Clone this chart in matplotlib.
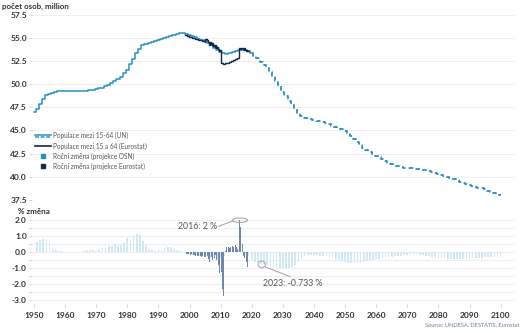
"""
Working-age population of Germany (UN vs Eurostat) with annual % change bars.
"""

import numpy as np
import matplotlib
matplotlib.use('Agg')
import matplotlib.pyplot as plt
from matplotlib.lines import Line2D
from matplotlib.patches import Ellipse
from matplotlib.legend_handler import HandlerBase
from matplotlib.ticker import MultipleLocator, FormatStrFormatter

plt.rcParams['font.family'] = ['Lato', 'DejaVu Sans']

# ── Data ───────────────────────────────────────────────────────────────────
un_years = list(range(1950, 2101))
un_pop = [
    47.05, 47.35, 47.85, 48.40, 48.80, 49.00, 49.10, 49.18, 49.23, 49.27,  # 1950
    49.30, 49.31, 49.32, 49.31, 49.30, 49.28, 49.27, 49.30, 49.36, 49.42,  # 1960
    49.48, 49.55, 49.65, 49.78, 49.95, 50.15, 50.35, 50.55, 50.80, 51.20,  # 1970
    51.60, 52.15, 52.75, 53.35, 53.85, 54.20, 54.40, 54.50, 54.57, 54.65,  # 1980
    54.75, 54.85, 54.97, 55.10, 55.25, 55.38, 55.48, 55.52, 55.50, 55.40,  # 1990
    55.30, 55.20, 55.08, 54.95, 54.80, 54.65, 54.45, 54.22, 53.98, 53.72,  # 2000
    53.50, 53.35, 53.32, 53.40, 53.50, 53.60, 53.70, 53.72, 53.68, 53.55,  # 2010
    53.35, 53.10, 52.80, 52.45, 52.10, 51.75, 51.35, 50.95, 50.40, 49.80,  # 2020
    49.20, 48.70, 48.20, 47.75, 47.25, 46.85, 46.55, 46.40, 46.30, 46.22,  # 2030
    46.15, 46.07, 45.98, 45.88, 45.76, 45.65, 45.53, 45.42, 45.30, 45.15,  # 2040
    44.95, 44.70, 44.40, 44.05, 43.75, 43.45, 43.15, 42.88, 42.65, 42.45,  # 2050
    42.28, 42.10, 41.90, 41.70, 41.52, 41.38, 41.25, 41.12, 41.04, 40.99,  # 2060
    40.95, 40.92, 40.89, 40.85, 40.80, 40.75, 40.68, 40.60, 40.50, 40.40,  # 2070
    40.30, 40.20, 40.10, 39.98, 39.85, 39.72, 39.60, 39.48, 39.36, 39.25,  # 2080
    39.14, 39.03, 38.93, 38.83, 38.73, 38.62, 38.50, 38.38, 38.26, 38.12,  # 2090
    37.98,                                                                 # 2100
]
UN_LAST_HIST = 2020

eu_years = [1998.5 + 0.25 * i for i in range(83)]
eu_pop = [
    55.35, 55.30,
    55.28, 55.25, 55.22, 55.20,   # 1999
    55.17, 55.14, 55.10, 55.07,   # 2000
    55.03, 55.00, 54.97, 54.94,   # 2001
    54.92, 54.90, 54.87, 54.85,   # 2002
    54.82, 54.80, 54.78, 54.75,   # 2003
    54.73, 54.70, 54.68, 54.65,   # 2004
    54.62, 54.85, 54.95, 54.75,   # 2005
    54.60, 54.45, 54.30, 54.55,   # 2006
    54.40, 54.20, 54.45, 54.15,   # 2007
    54.30, 54.05, 54.20, 53.95,   # 2008
    54.00, 53.80, 53.85, 53.65,   # 2009
    53.70, 52.30, 52.25, 52.20,   # 2010
    52.18, 52.22, 52.25, 52.28,   # 2011
    52.30, 52.33, 52.35, 52.38,   # 2012
    52.42, 52.45, 52.50, 52.55,   # 2013
    52.58, 52.62, 52.65, 52.70,   # 2014
    52.73, 52.78, 52.82, 52.85,   # 2015
    53.90, 53.85, 53.82, 53.88,   # 2016
    53.95, 53.80, 53.70, 53.90,   # 2017
    53.75, 53.55, 53.70, 53.60,   # 2018
    53.55,                        # 2019
]

un_chg_years = list(range(1951, 2101))
un_chg = [
    0.62, 0.78, 0.85, 0.82, 0.62, 0.15, 0.14, 0.10, 0.06,                  # 1951
    0.04, 0.03, 0.02, 0.00, -0.02, 0.04, 0.06, 0.12, 0.15, 0.16,           # 1960
    0.10, 0.15, 0.25, 0.28, 0.38, 0.42, 0.50, 0.38, 0.45, 0.60,            # 1970
    0.90, 0.72, 1.05, 1.15, 1.05, 0.72, 0.48, 0.22, 0.15, 0.10,            # 1980
    0.20, 0.15, 0.28, 0.30, 0.32, 0.22, 0.15, 0.08, 0.02, -0.05,           # 1990
    -0.10, -0.15, -0.18, -0.22, -0.25, -0.28, -0.32, -0.35, -0.40, -0.42,  # 2000
    -0.35, -0.20, -0.05, 0.12, 0.18, 0.20, 0.12, 0.05, -0.10, -0.25,       # 2010
    -0.45, -0.60, -0.68, -0.733, -0.75, -0.80, -0.85, -0.90, -0.95, -0.98, # 2020
    -1.00, -0.98, -0.95, -0.92, -0.80, -0.60, -0.40, -0.25, -0.18, -0.15,  # 2030
    -0.15, -0.18, -0.20, -0.22, -0.25, -0.30, -0.35, -0.42, -0.50, -0.55,  # 2040
    -0.60, -0.65, -0.65, -0.68, -0.68, -0.65, -0.60, -0.55, -0.50, -0.45,  # 2050
    -0.42, -0.40, -0.38, -0.33, -0.30, -0.27, -0.25, -0.22, -0.20, -0.18,  # 2060
    -0.15, -0.14, -0.13, -0.13, -0.14, -0.16, -0.20, -0.24, -0.27, -0.30,  # 2070
    -0.33, -0.36, -0.38, -0.40, -0.42, -0.43, -0.44, -0.44, -0.43, -0.42,  # 2080
    -0.40, -0.38, -0.36, -0.34, -0.33, -0.32, -0.31, -0.30, -0.30, -0.30,  # 2090
    -0.30,                                                                 # 2100
]

eu_chg_years = [1999 + 0.25 * i for i in range(80)]
eu_chg = [
    -0.10, -0.12, -0.10, -0.12,   # 1999
    -0.12, -0.15, -0.13, -0.15,   # 2000
    -0.15, -0.18, -0.16, -0.20,   # 2001
    -0.18, -0.20, -0.22, -0.20,   # 2002
    -0.22, -0.25, -0.25, -0.28,   # 2003
    -0.25, -0.28, -0.30, -0.32,   # 2004
    -0.30, 0.45, 0.55, -0.20,     # 2005
    -0.40, -0.60, -1.10, -0.50,   # 2006
    -0.30, -0.45, -0.20, -0.75,   # 2007
    -0.35, -0.15, -0.50, -0.30,   # 2008
    -0.50, -0.80, -1.30, -0.70,   # 2009
    -1.60, -1.20, -2.30, -2.75,   # 2010
    -2.90, -0.60, 0.10, 0.30,     # 2011
    0.30, 0.20, 0.35, 0.25,       # 2012
    0.30, 0.15, 0.35, 0.40,       # 2013
    0.30, 0.25, 0.40, 0.45,       # 2014
    0.35, 0.20, 0.45, 0.55,       # 2015
    2.00, 1.60, 1.55, 1.00,       # 2016
    0.50, -0.20, -0.35, -0.50,    # 2017
    -0.30, -0.60, -0.90, -0.40,   # 2018
]

UN_LINE = '#2a8fc1'
EU_LINE = '#12284a'
UN_BAR = '#d2e8f4'
EU_BAR = '#6f88a8'
GRID = '#efefef'
TXT = '#333333'
TICK_FS = 6.0


class DoubleLineHandler(HandlerBase):
    """Legend handle: solid line above a dashed one."""
    def create_artists(self, legend, orig_handle, xdescent, ydescent,
                       width, height, fontsize, trans):
        x0, x1 = -xdescent, -xdescent + width
        yc = height / 2 - ydescent
        top = Line2D([x0, x1], [yc + height * 0.2] * 2, color=UN_LINE,
                     lw=1.1, transform=trans)
        bot = Line2D([x0, x1], [yc - height * 0.2] * 2, color=UN_LINE,
                     lw=1.1, ls=(0, (2.5, 1.2)), transform=trans)
        return [top, bot]


def style_axis(ax):
    for s in ax.spines.values():
        s.set_visible(False)
    ax.grid(axis='y', which='both', color=GRID, lw=0.8)
    ax.set_axisbelow(True)
    ax.tick_params(axis='y', which='both', length=2.5, width=0.6,
                   color='#cccccc', pad=1.5, labelsize=TICK_FS, labelcolor=TXT)
    for lab in ax.get_yticklabels():
        lab.set_fontweight('bold')


def main():
    fig = plt.figure(figsize=(5.23, 3.33), dpi=100)
    left, width = 0.062, 0.922
    ax1 = fig.add_axes([left, 0.400, width, 0.555])
    ax2 = fig.add_axes([left, 0.086, width, 0.267])

    # ── Top panel: population levels ──────────────────────────────────────
    yrs = np.array(un_years)
    pop = np.array(un_pop)
    hist = yrs <= UN_LAST_HIST
    ax1.plot(yrs[hist], pop[hist], color=UN_LINE, lw=1.1, drawstyle='steps-mid')
    proj = yrs >= UN_LAST_HIST
    ax1.plot(yrs[proj], pop[proj], color=UN_LINE, lw=1.3,
             ls=(0, (2.5, 1.8)), drawstyle='steps-mid')
    ax1.plot(eu_years, eu_pop, color=EU_LINE, lw=1.0, drawstyle='steps-mid')

    ax1.set_xlim(1949.5, 2104.5)
    ax1.set_ylim(37.5, 57.5)
    ax1.yaxis.set_major_locator(MultipleLocator(2.5))
    ax1.yaxis.set_major_formatter(FormatStrFormatter('%.1f'))
    ax1.tick_params(axis='x', bottom=False, labelbottom=False)
    style_axis(ax1)

    handles = [
        object(),
        Line2D([], [], color=EU_LINE, lw=1.2),
        Line2D([], [], color=UN_LINE, marker='s', ls='none', markersize=3.2),
        Line2D([], [], color=EU_LINE, marker='s', ls='none', markersize=3.2),
    ]
    labels = [
        'Populace mezi 15-64 (UN)',
        'Populace mezi 15 a 64 (Eurostat)',
        'Roční změna (projekce OSN)',
        'Roční změna (projekce Eurostat)',
    ]
    leg = ax1.legend(handles, labels, handler_map={object: DoubleLineHandler()},
                     loc='upper left', bbox_to_anchor=(-0.004, 0.39),
                     frameon=False, fontsize=4.7, labelspacing=0.45,
                     handlelength=2.4, handletextpad=0.3, borderpad=0.2)
    for t in leg.get_texts():
        t.set_color('#555555')

    # ── Bottom panel: annual change ───────────────────────────────────────
    ax2.bar(un_chg_years, un_chg, width=0.55, color=UN_BAR, linewidth=0)
    ax2.bar(eu_chg_years, eu_chg, width=0.2, color=EU_BAR, linewidth=0,
            align='edge')

    ax2.set_xlim(1949.5, 2104.5)
    ax2.set_ylim(-3.25, 2.3)
    ax2.yaxis.set_major_locator(MultipleLocator(1.0))
    ax2.yaxis.set_minor_locator(MultipleLocator(0.5))
    ax2.yaxis.set_major_formatter(FormatStrFormatter('%.1f'))
    ax2.xaxis.set_major_locator(MultipleLocator(10))
    ax2.tick_params(axis='x', length=2.5, width=0.6, color='#cccccc', pad=3,
                    labelsize=TICK_FS, labelcolor=TXT)
    style_axis(ax2)
    for lab in ax2.get_xticklabels():
        lab.set_fontweight('bold')

    # annotations
    ann = dict(fontsize=6.3, color='#555555')
    ax2.add_patch(Ellipse((2016.2, 2.0), 4.8, 0.28, fill=False,
                          ec='#aaaaaa', lw=0.8))
    ax2.plot([2009.3, 2013.8], [1.62, 1.95], color='#aaaaaa', lw=0.8)
    ax2.text(2008.8, 1.62, '2016: 2 %', ha='right', va='center', **ann)

    ax2.add_patch(Ellipse((2023.2, -0.75), 2.3, 0.42, fill=False,
                          ec='#aaaaaa', lw=0.8))
    ax2.plot([2024.2, 2032.3], [-0.9, -1.52], color='#aaaaaa', lw=0.8)
    ax2.text(2023.6, -1.92, '2023: -0.733 %', ha='left', va='center', **ann)

    # ── Figure text ───────────────────────────────────────────────────────
    fig.text(0.004, 1 - 6 / 333, 'počet osob, million', fontsize=5.8,
             fontweight='bold', color=TXT, va='center')
    fig.text(18 / 523, 1 - 211 / 333, '% změna', fontsize=5.8,
             fontweight='bold', color=TXT, va='center')
    fig.text(519 / 523, 1 - 324.5 / 333, 'Source: UNDESA, DESTATIS, Eurostat',
             fontsize=4.1, color='#6b7f99', ha='right', va='center')

    fig.savefig('out.png', dpi=100)
    plt.close(fig)


if __name__ == '__main__':
    main()
